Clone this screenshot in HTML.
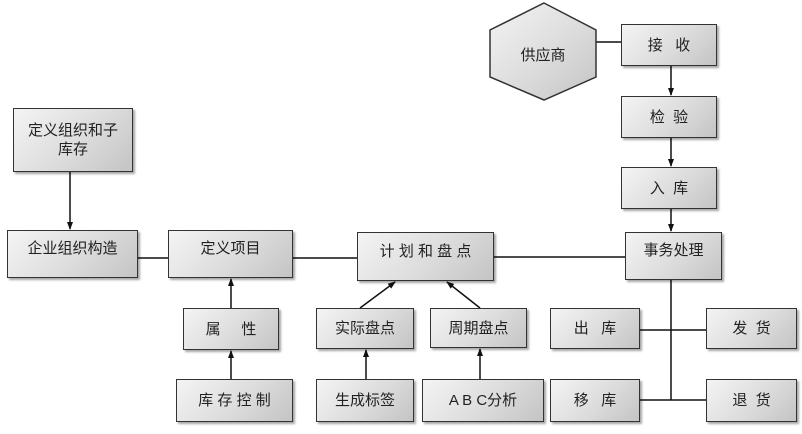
<!DOCTYPE html>
<html><head><meta charset="utf-8"><style>
html,body{margin:0;padding:0;background:#fff;}
#c{position:relative;width:802px;height:434px;overflow:hidden;font-family:"Liberation Sans","Noto Sans CJK SC",sans-serif;}
.b{position:absolute;box-sizing:border-box;border:1.5px solid #333;background:linear-gradient(135deg,#f4f4f4 0%,#dcdcdc 55%,#c4c4c4 100%);box-shadow:2px 2px 2px rgba(0,0,0,0.35);display:flex;align-items:center;justify-content:center;text-align:center;font-size:15px;color:#222;line-height:19px;}
.t{padding-bottom:11px;}
svg{position:absolute;left:0;top:0;}
</style></head><body><div id="c">
<svg width="802" height="434">
<defs>
<marker id="a" markerWidth="8" markerHeight="8" refX="7" refY="4" orient="auto" markerUnits="userSpaceOnUse"><path d="M0,1 L8,4 L0,7 Z" fill="#111"/></marker>
<linearGradient id="g" x1="0" y1="0" x2="1" y2="1"><stop offset="0" stop-color="#f4f4f4"/><stop offset="0.55" stop-color="#dcdcdc"/><stop offset="1" stop-color="#c4c4c4"/></linearGradient>
</defs>
<g stroke="#111" stroke-width="1.5" fill="none">
<line x1="70" y1="172" x2="70" y2="229" marker-end="url(#a)"/>
<line x1="138" y1="258" x2="168" y2="258"/>
<line x1="293" y1="258" x2="357" y2="258"/>
<line x1="487" y1="257" x2="625" y2="257"/>
<line x1="231" y1="308" x2="231" y2="279" marker-end="url(#a)"/>
<line x1="231" y1="379" x2="231" y2="351" marker-end="url(#a)"/>
<line x1="366" y1="379" x2="366" y2="350" marker-end="url(#a)"/>
<line x1="480" y1="379" x2="480" y2="349" marker-end="url(#a)"/>
<line x1="360" y1="308" x2="395" y2="282" marker-end="url(#a)"/>
<line x1="480" y1="308" x2="447" y2="282" marker-end="url(#a)"/>
<line x1="596" y1="42" x2="621" y2="42"/>
<line x1="671" y1="66" x2="671" y2="95" marker-end="url(#a)"/>
<line x1="671" y1="138" x2="671" y2="166" marker-end="url(#a)"/>
<line x1="671" y1="209" x2="671" y2="231" marker-end="url(#a)"/>
<line x1="671" y1="280" x2="671" y2="400"/>
<line x1="640" y1="330" x2="706" y2="330"/>
<line x1="640" y1="400" x2="706" y2="400"/>
</g>
<polygon points="544,3 596,30 596,77 544,100 490,77 490,30" fill="url(#g)" stroke="#333" stroke-width="1.5"/>
<text x="543" y="60" font-size="15" text-anchor="middle" fill="#222" font-family="Liberation Sans, Noto Sans CJK SC, sans-serif">供应商</text>
</svg>
<div class="b" style="left:13px;top:108px;width:120px;height:64px;">定义组织和子<br>库存</div>
<div class="b t" style="left:7px;top:230px;width:131px;height:48px;">企业组织构造</div>
<div class="b t" style="left:168px;top:230px;width:125px;height:48px;">定义项目</div>
<div class="b t" style="left:357px;top:232px;width:137px;height:49px;">计 划 和 盘 点</div>
<div class="b" style="left:183px;top:308px;width:96px;height:42px;">属&nbsp;&nbsp;&nbsp;&nbsp;&nbsp;性</div>
<div class="b" style="left:176px;top:379px;width:117px;height:43px;">库 存 控 制</div>
<div class="b" style="left:316px;top:308px;width:98px;height:41px;">实际盘点</div>
<div class="b" style="left:430px;top:308px;width:97px;height:40px;">周期盘点</div>
<div class="b" style="left:316px;top:379px;width:98px;height:43px;">生成标签</div>
<div class="b" style="left:422px;top:379px;width:122px;height:43px;">A B C分析</div>
<div class="b" style="left:550px;top:308px;width:90px;height:41px;">出&nbsp;&nbsp;&nbsp;库</div>
<div class="b" style="left:550px;top:379px;width:90px;height:43px;">移&nbsp;&nbsp;&nbsp;库</div>
<div class="b" style="left:706px;top:308px;width:91px;height:41px;">发&nbsp;&nbsp;货</div>
<div class="b" style="left:706px;top:379px;width:91px;height:43px;">退&nbsp;&nbsp;货</div>
<div class="b t" style="left:625px;top:232px;width:97px;height:48px;">事务处理</div>
<div class="b" style="left:621px;top:167px;width:96px;height:42px;">入&nbsp;&nbsp;库</div>
<div class="b" style="left:621px;top:96px;width:96px;height:42px;">检&nbsp;&nbsp;验</div>
<div class="b" style="left:621px;top:24px;width:96px;height:42px;">接&nbsp;&nbsp;&nbsp;收</div>
</div></body></html>
